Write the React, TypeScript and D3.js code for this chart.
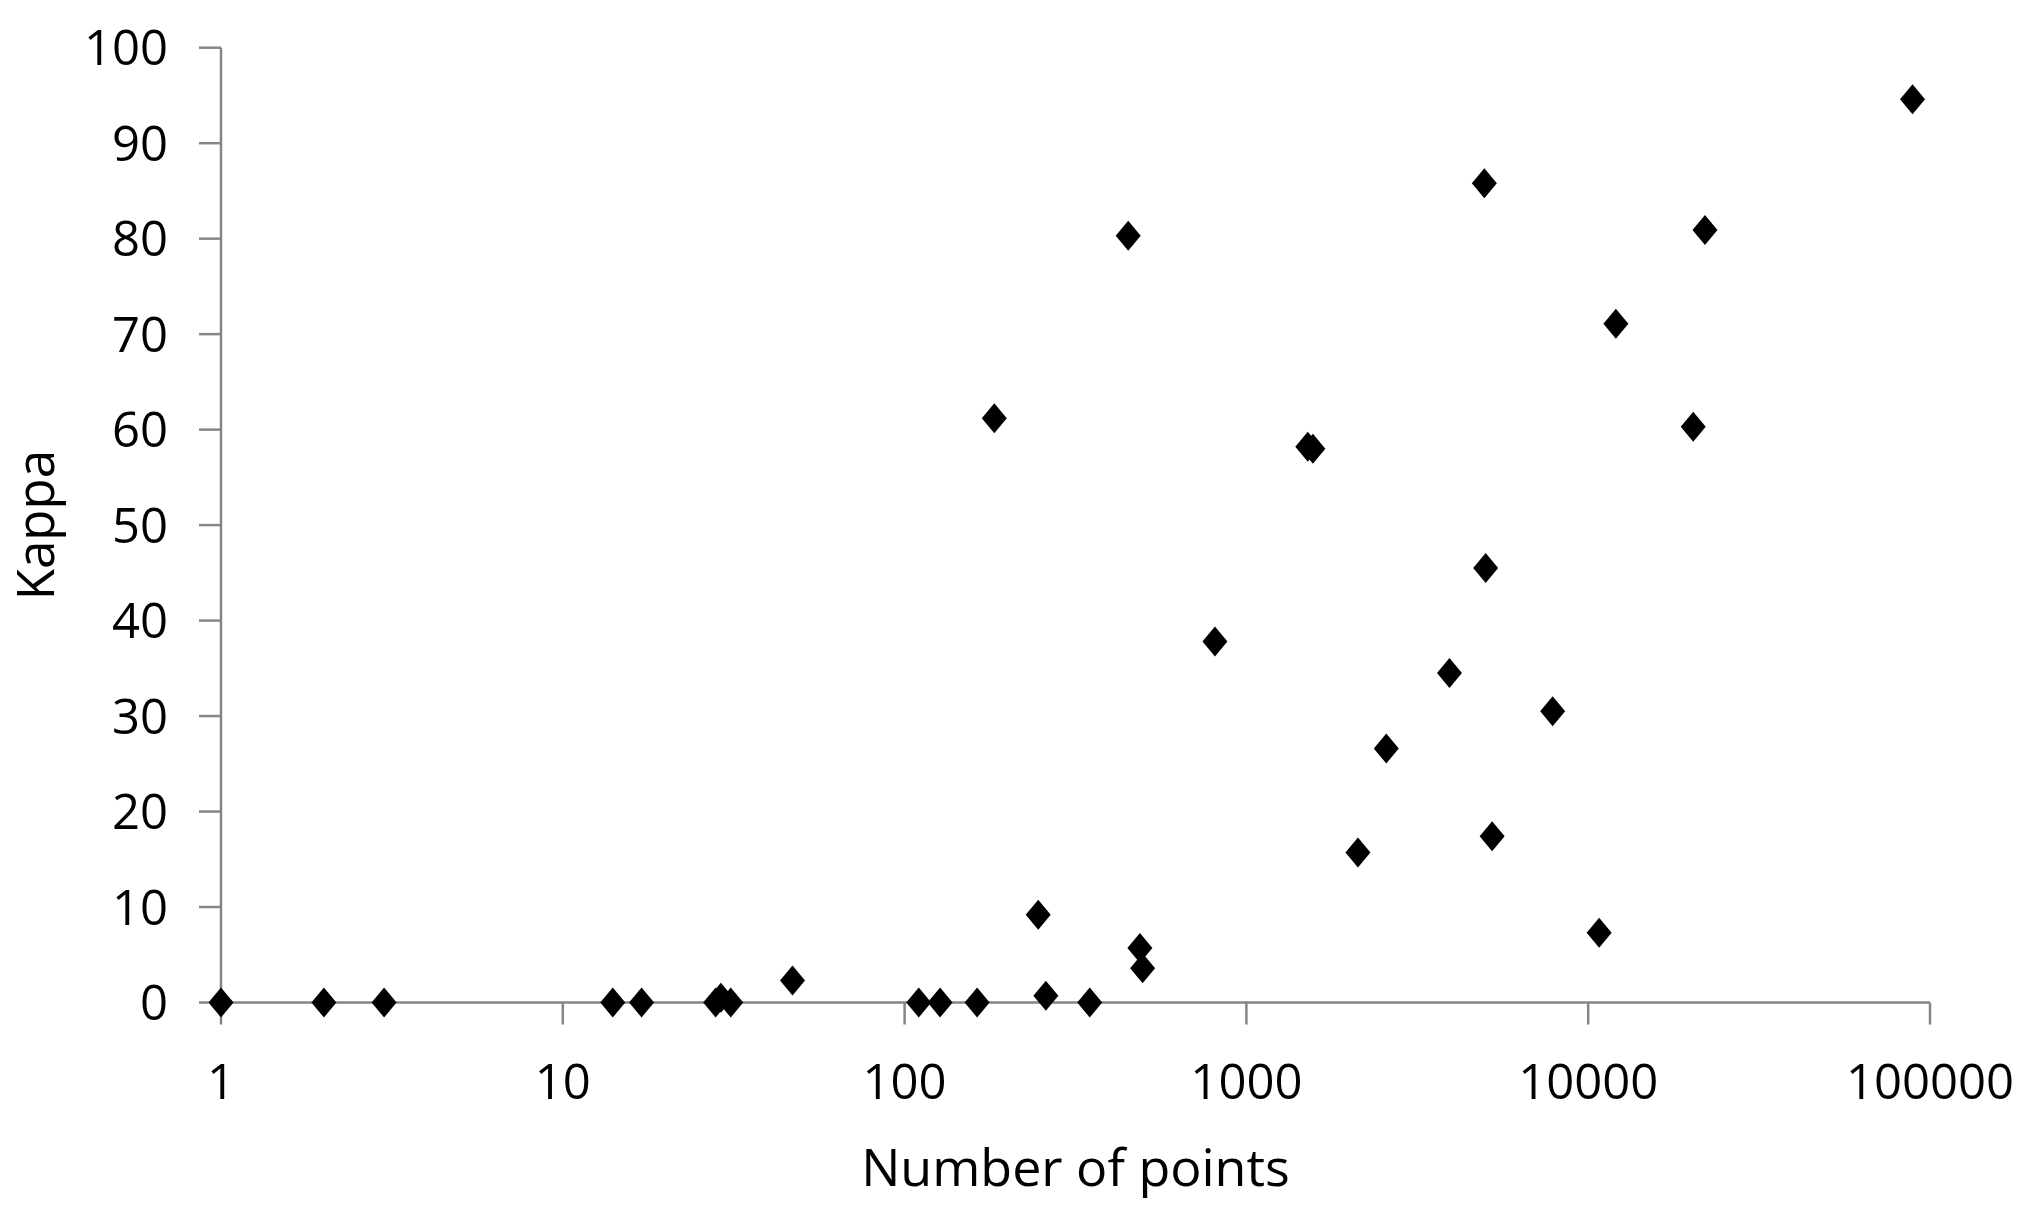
import { useEffect, useRef } from 'react'
import * as d3 from 'd3'

// Number of points per study (x, log scale) and kappa (y)
const POINTS_N = [
  1, 2, 3, 14, 17, 28, 29, 31, 47, 110, 127, 163, 183, 246, 259, 348, 451, 488,
  497, 809, 1512, 1565, 2120, 2566, 3927, 4967, 5012, 5236, 7870, 10765, 12050,
  20290, 21960, 88900,
]
const KAPPA = [
  0, 0, 0, 0, 0, 0, 0.5, 0, 2.3, 0, 0, 0, 61.2, 9.2, 0.7, 0, 80.3, 5.7, 3.6,
  37.8, 58.2, 58.0, 15.7, 26.6, 34.5, 85.8, 45.5, 17.4, 30.5, 7.3, 71.1, 60.3,
  80.9, 94.6,
]
const X_TICKS = [1, 10, 100, 1000, 10000, 100000]
const Y_TICKS = [0, 10, 20, 30, 40, 50, 60, 70, 80, 90, 100]

const W = 2023
const H = 1214
const FONT = '"Open Sans", "Noto Sans", sans-serif'
const AXIS_COLOR = '#858585'

export default function App() {
  const svgRef = useRef<SVGSVGElement | null>(null)

  useEffect(() => {
    const el = svgRef.current
    if (!el) return

    const left = 221
    const right = 1930
    const top = 47.7
    const bottom = 1002.5
    const tick = 22

    const x = d3.scaleLog().domain([1, 100000]).range([left, right])
    const y = d3.scaleLinear().domain([0, 100]).range([bottom, top])

    const svg = d3.select(el)
    svg.selectAll('*').remove()

    // y axis
    svg
      .append('line')
      .attr('x1', left)
      .attr('x2', left)
      .attr('y1', top)
      .attr('y2', bottom)
      .attr('stroke', AXIS_COLOR)
      .attr('stroke-width', 2.5)

    const yt = svg.append('g').selectAll('g').data(Y_TICKS).enter().append('g')
    yt.append('line')
      .attr('x1', left - tick)
      .attr('x2', left)
      .attr('y1', (d) => y(d))
      .attr('y2', (d) => y(d))
      .attr('stroke', AXIS_COLOR)
      .attr('stroke-width', 2.5)
    yt.append('text')
      .attr('x', left - tick - 31)
      .attr('y', (d) => y(d))
      .attr('dy', '0.36em')
      .attr('text-anchor', 'end')
      .attr('font-family', FONT)
      .attr('font-size', 49)
      .attr('fill', '#000')
      .text((d) => String(d))

    // x axis
    svg
      .append('line')
      .attr('x1', left)
      .attr('x2', right)
      .attr('y1', bottom)
      .attr('y2', bottom)
      .attr('stroke', AXIS_COLOR)
      .attr('stroke-width', 2.5)

    const xt = svg.append('g').selectAll('g').data(X_TICKS).enter().append('g')
    xt.append('line')
      .attr('x1', (d) => x(d))
      .attr('x2', (d) => x(d))
      .attr('y1', bottom)
      .attr('y2', bottom + tick)
      .attr('stroke', AXIS_COLOR)
      .attr('stroke-width', 2.5)
    xt.append('text')
      .attr('x', (d) => x(d))
      .attr('y', 1099)
      .attr('text-anchor', 'middle')
      .attr('font-family', FONT)
      .attr('font-size', 49)
      .attr('fill', '#000')
      .text((d) => String(d))

    // axis titles
    svg
      .append('text')
      .attr('x', (left + right) / 2)
      .attr('y', 1186)
      .attr('text-anchor', 'middle')
      .attr('font-family', FONT)
      .attr('font-size', 52)
      .attr('fill', '#000')
      .text('Number of points')

    svg
      .append('text')
      .attr('transform', `translate(54, ${(top + bottom) / 2}) rotate(-90)`)
      .attr('text-anchor', 'middle')
      .attr('font-family', FONT)
      .attr('font-size', 51)
      .attr('fill', '#000')
      .text('Kappa')

    // diamond markers
    const hw = 12.5
    const hh = 15
    const diamond = `M0,${-hh}L${hw},0L0,${hh}L${-hw},0Z`
    svg
      .append('g')
      .selectAll('path')
      .data(POINTS_N.map((n, i) => ({ n, k: KAPPA[i] })))
      .enter()
      .append('path')
      .attr('d', diamond)
      .attr('transform', (d) => `translate(${x(d.n)},${y(d.k)})`)
      .attr('fill', '#000')
  }, [])

  return (
    <svg
      ref={svgRef}
      width={W}
      height={H}
      style={{ position: 'absolute', left: 0, top: 0, display: 'block', background: '#fff' }}
    />
  )
}
